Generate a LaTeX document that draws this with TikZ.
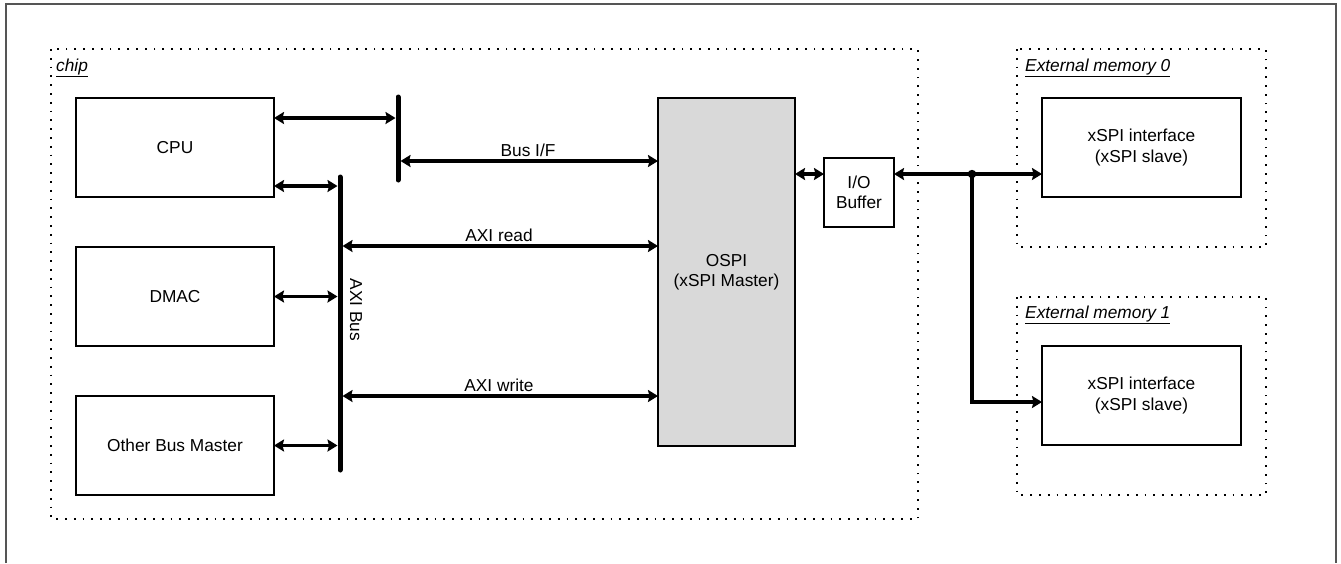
\documentclass[tikz,border=0pt]{standalone}
\usepackage{fontspec}
\setmainfont{Liberation Sans}
\usetikzlibrary{arrows.meta}
\definecolor{ospigray}{HTML}{D9D9D9}
\definecolor{framegray}{HTML}{555555}
\begin{document}
\begin{tikzpicture}[x=1pt,y=-1pt,
  font=\fontsize{17.3}{20.5}\selectfont,
  box/.style={draw=black, line width=1.2pt, fill=white, inner sep=0pt, outer sep=0pt, align=center},
  region/.style={draw=black, line width=1.8pt, dash pattern=on 1.8pt off 7pt},
  bar/.style={line width=5pt, line cap=round},
  arr/.style={line width=3.3pt, {Stealth[length=10pt,width=12pt,inset=1.5pt]}-{Stealth[length=10pt,width=12pt,inset=1.5pt]}},
  arrone/.style={line width=3.3pt, -{Stealth[length=10pt,width=12pt,inset=1.5pt]}},
  tag/.style={font=\fontsize{17.3}{20.5}\selectfont\itshape, anchor=west, inner sep=0pt},
  lbl/.style={above, inner sep=3pt}]
\useasboundingbox (0,0) rectangle (1341,563);
\fill[white] (0,0) rectangle (1341,563);
% outer frame (open at the bottom)
\draw[framegray, line width=2pt] (6,563) -- (6,4) -- (1336,4) -- (1336,563);

% regions
\draw[region] (51,49) rectangle (918,519);
\node[tag] (chiplbl) at (56,68) {\underline{chip}};
\draw[region] (1017,49) rectangle (1266,247);
\node[tag] (em0lbl) at (1025,68) {\underline{External memory 0}};
\draw[region] (1017,297) rectangle (1266,495);
\node[tag] (em1lbl) at (1025,315) {\underline{External memory 1}};

% blocks
\node[box, minimum width=198pt, minimum height=99pt] (cpu) at (175,147.5) {CPU};
\node[box, minimum width=198pt, minimum height=99pt] (dmac) at (175,296.5) {DMAC};
\node[box, minimum width=198pt, minimum height=99pt] (other) at (175,445.5) {Other Bus Master};
\node[box, fill=ospigray, minimum width=137pt, minimum height=348pt] (ospi) at (726.5,272) {OSPI\\(xSPI Master)};
\node[box, minimum width=70pt, minimum height=69pt] (iobuf) at (859,192.5) {I/O\\Buffer};
\node[box, minimum width=199pt, minimum height=99pt] (xspi0) at (1141.5,147.5) {xSPI interface\\(xSPI slave)};
\node[box, minimum width=199pt, minimum height=99pt] (xspi1) at (1141.5,395.5) {xSPI interface\\(xSPI slave)};

% bus bars
\coordinate (bifTop) at (398,97);
\coordinate (bifBot) at (398,180);
\coordinate (axiTop) at (340,177);
\coordinate (axiBot) at (340,470);
\draw[bar] (bifTop) -- (bifBot);
\draw[bar] (axiTop) -- (axiBot);
\node[rotate=-90] (axilbl) at (356,310) {AXI Bus};

% connectors
\draw[arr, shorten >=2.5pt] ([yshift=29.5pt]cpu.east) -- ([yshift=29.5pt]cpu.east -| bifTop);
\draw[arr, shorten >=2.5pt] ([yshift=-38.5pt]cpu.east) -- ([yshift=-38.5pt]cpu.east -| axiTop);
\draw[arr, shorten >=2.5pt] (dmac.east) -- (dmac.east -| axiTop);
\draw[arr, shorten >=2.5pt] (other.east) -- (other.east -| axiTop);

\draw[arr, shorten <=2.5pt] ([yshift=111pt]ospi.west -| bifTop) -- node[lbl] {Bus I/F} ([yshift=111pt]ospi.west);
\draw[arr, shorten <=2.5pt] ([yshift=26pt]ospi.west -| axiTop) -- node[lbl] {AXI read} ([yshift=26pt]ospi.west);
\draw[arr, shorten <=2.5pt] ([yshift=-124pt]ospi.west -| axiTop) -- node[lbl] {AXI write} ([yshift=-124pt]ospi.west);

\draw[arr] ([yshift=18.5pt]iobuf.west -| ospi.east) -- ([yshift=18.5pt]iobuf.west);
\coordinate (junc) at (972,174);
\draw[arr] ([yshift=18.5pt]iobuf.east) -- ([yshift=-26.5pt]xspi0.west);
\draw[arrone] (junc) |- ([yshift=-6.5pt]xspi1.west);
\fill (junc) circle (4.2pt);
\end{tikzpicture}
\end{document}
